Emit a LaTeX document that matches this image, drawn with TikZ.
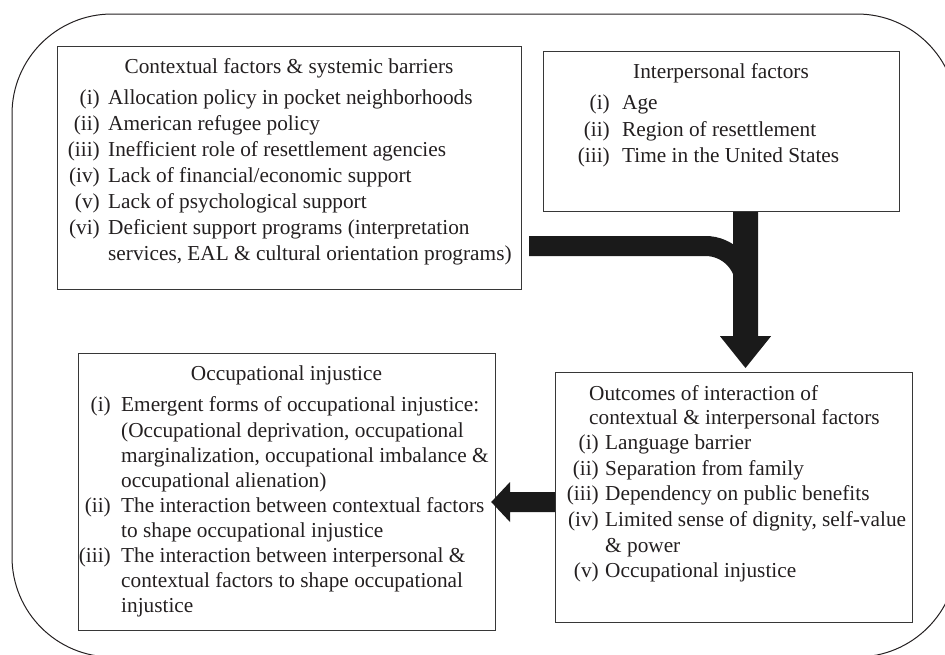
\documentclass[tikz,border=0pt]{standalone}
\usepackage{fontspec}
\setmainfont{Liberation Serif}
\usetikzlibrary{calc}
\definecolor{ink}{RGB}{35,31,32}
\definecolor{boxc}{RGB}{55,55,55}
\definecolor{arrowc}{RGB}{26,26,26}
\newcommand{\txtfont}{\fontsize{21.3}{25}\selectfont}
\begin{document}
\begin{tikzpicture}[x=1pt,y=-1pt,
  framebox/.style={draw=boxc, line width=1.2pt, inner sep=0pt, anchor=north west},
  ttl/.style={anchor=base, inner sep=0pt, font=\txtfont, text=ink},
  lab/.style={anchor=base east, inner sep=0pt, font=\txtfont, text=ink},
  itm/.style={anchor=base west, inner sep=0pt, font=\txtfont, text=ink},
  fat/.style={fill=arrowc, draw=none}]
\useasboundingbox (0,0) rectangle (945,654);
\begin{scope}
  \clip (0,0) rectangle (945,654);
  \draw[ink, line width=1pt, rounded corners=100pt] (12,14) rectangle (957,657);
\end{scope}

% boxes
\node[framebox, minimum width=464pt, minimum height=243pt] (ctx) at (57,46) {};
\node[framebox, minimum width=356pt, minimum height=160pt] (inter) at (543,51) {};
\node[framebox, minimum width=417pt, minimum height=277pt] (occ) at (78,353) {};
\node[framebox, minimum width=357pt, minimum height=250pt] (out) at (555,372) {};

% helper coordinates
\coordinate (vx) at (745.5,0);
\coordinate (hy) at (0,246);
\coordinate (ly) at (0,502);

% Contextual factors
\node[ttl] (c0) at (289,73) {Contextual factors \& systemic barriers};
\node[lab] (cl1) at (100,104) {(i)};
\node[lab] (cl2) at (100,130) {(ii)};
\node[lab] (cl3) at (100,156) {(iii)};
\node[lab] (cl4) at (100,182) {(iv)};
\node[lab] (cl5) at (100,208) {(v)};
\node[lab] (cl6) at (100,234) {(vi)};
\node[itm] (ci1) at (108,104) {Allocation policy in pocket neighborhoods};
\node[itm] (ci2) at (108,130) {American refugee policy};
\node[itm] (ci3) at (108,156) {Inefficient role of resettlement agencies};
\node[itm] (ci4) at (108,182) {Lack of financial/economic support};
\node[itm] (ci5) at (108,208) {Lack of psychological support};
\node[itm] (ci6) at (108,234) {Deficient support programs (interpretation};
\node[itm] (ci7) at (108,260) {services, EAL \& cultural orientation programs)};

% Interpersonal factors
\node[ttl] (p0) at (721,78) {Interpersonal factors};
\node[lab] (pl1) at (610,109) {(i)};
\node[lab] (pl2) at (610,136) {(ii)};
\node[lab] (pl3) at (610,162) {(iii)};
\node[itm] (pi1) at (622,109) {Age};
\node[itm] (pi2) at (622,136) {Region of resettlement};
\node[itm] (pi3) at (622,162) {Time in the United States};

% Occupational injustice
\node[ttl] (o0) at (286.5,380) {Occupational injustice};
\node[lab] (ol1) at (111,411) {(i)};
\node[lab] (ol2) at (111,512) {(ii)};
\node[lab] (ol3) at (111,562) {(iii)};
\node[itm] (oi1) at (121,411) {Emergent forms of occupational injustice:};
\node[itm] (oi2) at (121,437) {(Occupational deprivation, occupational};
\node[itm] (oi3) at (121,462) {marginalization, occupational imbalance \&};
\node[itm] (oi4) at (121,487) {occupational alienation)};
\node[itm] (oi5) at (121,512) {The interaction between contextual factors};
\node[itm] (oi6) at (121,537) {to shape occupational injustice};
\node[itm] (oi7) at (121,562) {The interaction between interpersonal \&};
\node[itm] (oi8) at (121,587) {contextual factors to shape occupational};
\node[itm] (oi9) at (121,612) {injustice};

% Outcomes
\node[itm] (u0a) at (589,400) {Outcomes of interaction of};
\node[itm] (u0b) at (589,424) {contextual \& interpersonal factors};
\node[lab] (ul1) at (599,449) {(i)};
\node[lab] (ul2) at (599,475) {(ii)};
\node[lab] (ul3) at (599,500) {(iii)};
\node[lab] (ul4) at (599,526) {(iv)};
\node[lab] (ul5) at (599,577) {(v)};
\node[itm] (ui1) at (605,449) {Language barrier};
\node[itm] (ui2) at (605,475) {Separation from family};
\node[itm] (ui3) at (605,500) {Dependency on public benefits};
\node[itm] (ui4) at (605,526) {Limited sense of dignity, self-value};
\node[itm] (ui5) at (605,552) {\& power};
\node[itm] (ui6) at (605,577) {Occupational injustice};

% bent arrow from contextual factors
\draw[arrowc, line width=20pt, rounded corners=40pt]
  ($(ctx.north east |- hy)+(7,0)$) -- (vx |- hy) -- ($(vx |- hy)+(0,70)$);
% down arrow from interpersonal to outcomes
\fill[fat] ($(inter.south -| vx)+(-12.5,0)$) -- ($(inter.south -| vx)+(12.5,0)$)
  -- ($(inter.south -| vx)+(12.5,124)$) -- ($(inter.south -| vx)+(25.5,124)$)
  -- ($(out.north -| vx)+(0,-4)$)
  -- ($(inter.south -| vx)+(-25.5,124)$) -- ($(inter.south -| vx)+(-12.5,124)$) -- cycle;
% left arrow from outcomes to occupational injustice
\fill[fat] ($(out.west |- ly)+(0,-10)$) -- ($(out.west |- ly)+(-45,-10)$)
  -- ($(out.west |- ly)+(-45,-20)$) -- ($(occ.east |- ly)+(-5,0)$)
  -- ($(out.west |- ly)+(-45,20)$) -- ($(out.west |- ly)+(-45,10)$)
  -- ($(out.west |- ly)+(0,10)$) -- cycle;
\end{tikzpicture}
\end{document}
